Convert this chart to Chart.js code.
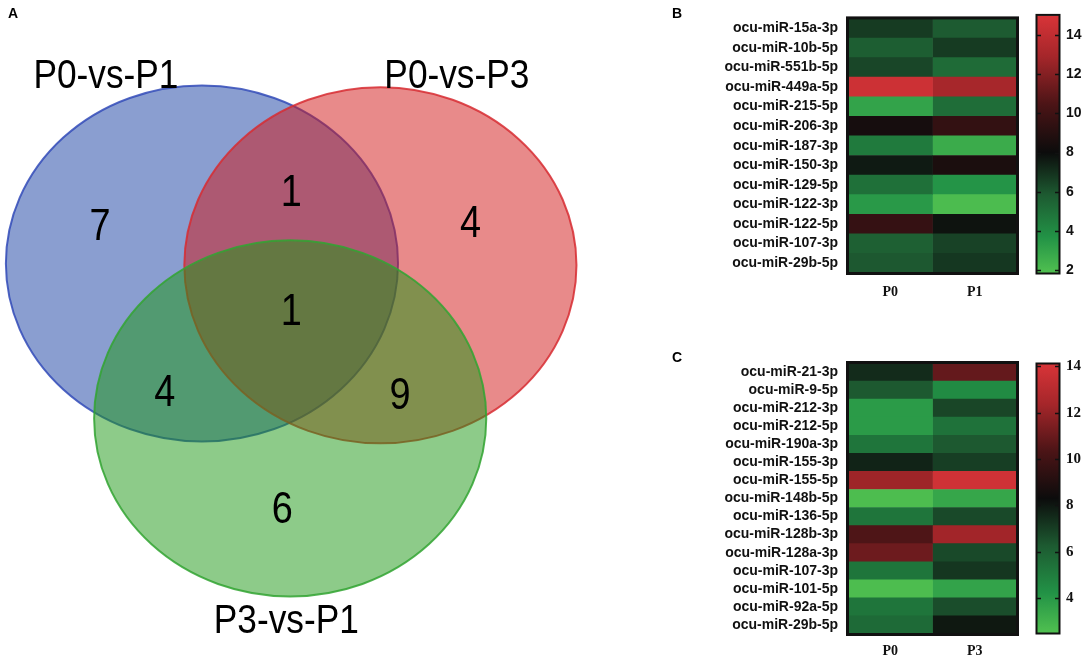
<!DOCTYPE html>
<html>
<head>
<meta charset="utf-8">
<script src="https://cdn.jsdelivr.net/npm/chart.js@4.4.1/dist/chart.umd.min.js"></script>
<style>
  html, body { margin: 0; padding: 0; background: #fff; }
  #wrap { position: relative; width: 1084px; height: 657px; overflow: hidden; }
  canvas { position: absolute; }
  .panel { position: absolute; font: bold 14px 'Liberation Sans', Arial, sans-serif; color: #000; line-height: 14px; }
</style>
</head>
<body>
<div id="wrap">
  <canvas id="venn" width="600" height="657" style="left:0;top:0"></canvas>
  <canvas id="heatB" width="345" height="320" style="left:680px;top:0"></canvas>
  <canvas id="barB" width="59" height="320" style="left:1025px;top:0"></canvas>
  <canvas id="heatC" width="345" height="337" style="left:680px;top:320px"></canvas>
  <canvas id="barC" width="59" height="337" style="left:1025px;top:320px"></canvas>
  <div class="panel" style="left:8px;top:6px">A</div>
  <div class="panel" style="left:672px;top:6px">B</div>
  <div class="panel" style="left:672px;top:350px">C</div>
</div>
<script>
// Venn: three comparisons, circles of radius 1 (data units)
const vennSets = ['P0-vs-P1', 'P0-vs-P3', 'P3-vs-P1'];
const vennCx = [1.03, 1.94, 1.48];
const vennCy = [2.21, 2.20, 1.34];
const vennR = 1;
const vennNameX = [0.54, 2.33, 1.46];
const vennNameY = [3.28, 3.28, 0.22];
// region counts: P1 only, P1&P3, P3 only, all, P1&P31, P3&P31, P31 only
const regionCounts = [7, 1, 4, 1, 4, 9, 6];
const regionX = [0.51, 1.485, 2.40, 1.485, 0.84, 2.04, 1.44];
const regionY = [2.43, 2.62, 2.45, 1.955, 1.50, 1.48, 0.84];

// heatmap B
const mirB = ['ocu-miR-15a-3p', 'ocu-miR-10b-5p', 'ocu-miR-551b-5p', 'ocu-miR-449a-5p', 'ocu-miR-215-5p',
  'ocu-miR-206-3p', 'ocu-miR-187-3p', 'ocu-miR-150-3p', 'ocu-miR-129-5p', 'ocu-miR-122-3p',
  'ocu-miR-122-5p', 'ocu-miR-107-3p', 'ocu-miR-29b-5p'];
const colsB = ['P0', 'P1'];
const p0B = [6.7, 5.7, 6.4, 14.5, 3.0, 8.4, 4.6, 7.6, 5.0, 3.4, 9.6, 5.6, 5.9];
const p1B = [5.8, 6.7, 5.2, 13.0, 5.1, 9.5, 2.7, 8.6, 3.6, 2.0, 7.8, 6.5, 6.8];
const ticksB = [2, 4, 6, 8, 10, 12, 14];

// heatmap C
const mirC = ['ocu-miR-21-3p', 'ocu-miR-9-5p', 'ocu-miR-212-3p', 'ocu-miR-212-5p', 'ocu-miR-190a-3p',
  'ocu-miR-155-3p', 'ocu-miR-155-5p', 'ocu-miR-148b-5p', 'ocu-miR-136-5p', 'ocu-miR-128b-3p',
  'ocu-miR-128a-3p', 'ocu-miR-107-3p', 'ocu-miR-101-5p', 'ocu-miR-92a-5p', 'ocu-miR-29b-5p'];
const colsC = ['P0', 'P3'];
const p0C = [7.5, 6.3, 3.9, 3.9, 5.3, 7.7, 12.2, 2.6, 5.3, 10.4, 11.1, 5.3, 2.6, 5.3, 5.7];
const p3C = [10.9, 4.5, 6.8, 5.4, 6.3, 7.0, 13.8, 3.5, 6.7, 12.3, 6.7, 7.2, 3.6, 6.6, 8.0];
const ticksC = [4, 6, 8, 10, 12, 14];

const fills = ['rgba(21,61,161,0.5)', 'rgba(209,21,21,0.5)', 'rgba(27,151,19,0.5)'];
const strokes = ['rgba(50,75,185,0.85)', 'rgba(215,45,50,0.85)', 'rgba(50,165,50,0.85)'];

function makeStops(lo, mid, hi) {
  return [
    [lo, [80, 192, 80]],
    [lo + (mid - lo) * 0.3, [34, 146, 70]],
    [lo + (mid - lo) * 0.65, [29, 90, 49]],
    [mid, [12, 12, 12]],
    [mid + (hi - mid) * 0.35, [75, 20, 22]],
    [mid + (hi - mid) * 0.7, [165, 38, 42]],
    [hi, [216, 52, 56]]
  ];
}

function colorOf(v, stops) {
  if (v <= stops[0][0]) return 'rgb(' + stops[0][1].join(',') + ')';
  for (let i = 1; i < stops.length; i++) {
    if (v <= stops[i][0]) {
      const t = (v - stops[i - 1][0]) / (stops[i][0] - stops[i - 1][0]);
      const a = stops[i - 1][1], b = stops[i][1];
      return 'rgb(' + a.map((c, k) => Math.round(c + (b[k] - c) * t)).join(',') + ')';
    }
  }
  return 'rgb(' + stops[stops.length - 1][1].join(',') + ')';
}

Chart.defaults.animation = false;
Chart.defaults.events = [];
Chart.defaults.plugins.legend.display = false;
Chart.defaults.plugins.tooltip.enabled = false;

function drawText(ctx, text, px, py, size, sx) {
  ctx.save();
  ctx.translate(px, py);
  ctx.scale(sx, 1);
  ctx.font = size + "px 'Liberation Sans', Arial, sans-serif";
  ctx.fillStyle = '#000';
  ctx.textAlign = 'center';
  ctx.textBaseline = 'alphabetic';
  ctx.fillText(text, 0, size * 0.36);
  ctx.restore();
}

const vennPlugin = {
  id: 'venn',
  afterDatasetsDraw(chart) {
    const { ctx, scales: { x, y } } = chart;
    vennSets.forEach((name, i) => {
      const px = x.getPixelForValue(vennCx[i]);
      const py = y.getPixelForValue(vennCy[i]);
      const rx = x.getPixelForValue(vennCx[i] + vennR) - px;
      const ry = py - y.getPixelForValue(vennCy[i] + vennR);
      ctx.beginPath();
      ctx.ellipse(px, py, rx, ry, 0, 0, Math.PI * 2);
      ctx.fillStyle = fills[i];
      ctx.fill();
      ctx.lineWidth = 2;
      ctx.strokeStyle = strokes[i];
      ctx.stroke();
    });
    vennSets.forEach((name, i) => {
      drawText(ctx, name, x.getPixelForValue(vennNameX[i]), y.getPixelForValue(vennNameY[i]), 41, 0.86);
    });
    regionCounts.forEach((n, i) => {
      drawText(ctx, String(n), x.getPixelForValue(regionX[i]), y.getPixelForValue(regionY[i]), 44, 0.86);
    });
  }
};

new Chart(document.getElementById('venn'), {
  type: 'scatter',
  data: {
    datasets: vennSets.map((name, i) => ({
      label: name,
      data: [{ x: vennCx[i], y: vennCy[i] }],
      pointRadius: 0
    }))
  },
  options: {
    responsive: false,
    layout: { padding: 0 },
    scales: {
      x: { type: 'linear', display: false, min: 0, max: 3.06 },
      y: { type: 'linear', display: false, min: 0, max: 3.69 }
    }
  },
  plugins: [vennPlugin]
});

const frame = {
  id: 'frame',
  afterDatasetsDraw(chart, args, opts) {
    const { ctx, chartArea: a } = chart;
    ctx.save();
    ctx.strokeStyle = '#111';
    ctx.lineWidth = opts.width;
    ctx.strokeRect(a.left - 0.5, a.top - 0.5, a.right - a.left + 1, a.bottom - a.top + 1);
    if (opts.marks) {
      const y = chart.scales.y;
      ctx.lineWidth = 1.5;
      y.ticks.forEach(t => {
        const py = Math.round(y.getPixelForValue(t.value)) + 0.5;
        ctx.beginPath();
        ctx.moveTo(a.left, py); ctx.lineTo(a.left + 4, py);
        ctx.moveTo(a.right - 4, py); ctx.lineTo(a.right, py);
        ctx.stroke();
      });
    }
    ctx.restore();
  }
};

function heatmap(id, rows, cols, series, stops, pad, xHeight, xPad) {
  new Chart(document.getElementById(id), {
    type: 'bar',
    data: {
      labels: rows,
      datasets: series.map((vals, c) => ({
        label: cols[c],
        data: vals.map(() => [c, c + 1]),
        backgroundColor: vals.map(v => colorOf(v, stops)),
        borderWidth: 0,
        barPercentage: 1,
        categoryPercentage: 1,
        grouped: false
      }))
    },
    options: {
      responsive: false,
      indexAxis: 'y',
      layout: { padding: pad },
      scales: {
        x: {
          type: 'linear', min: 0, max: cols.length,
          grid: { display: false, drawTicks: false },
          border: { display: false },
          afterBuildTicks: s => { s.ticks = cols.map((c, i) => ({ value: i + 0.5 })); },
          afterFit: s => { s.height = xHeight; },
          ticks: {
            callback: (v, i) => cols[i],
            padding: xPad,
            color: '#111',
            font: { family: "'Liberation Serif', 'Times New Roman', serif", size: 14, weight: 'bold' }
          }
        },
        y: {
          grid: { display: false, drawTicks: false },
          border: { display: false },
          afterFit: s => { s.width = 168; },
          ticks: {
            autoSkip: false,
            padding: 10,
            color: '#111',
            font: { family: "'Liberation Sans', Arial, sans-serif", size: 14, weight: 'bold' }
          }
        }
      },
      plugins: { frame: { width: 3, marks: false } }
    },
    plugins: [frame]
  });
}

function colorbar(id, stops, ticks, pad, font) {
  const lo = stops[0][0], hi = stops[stops.length - 1][0];
  new Chart(document.getElementById(id), {
    type: 'bar',
    data: {
      labels: [''],
      datasets: [{
        data: [[lo, hi]],
        barPercentage: 1,
        categoryPercentage: 1,
        borderWidth: 0,
        backgroundColor: (c) => {
          const y = c.chart.scales.y;
          if (!c.chart.chartArea || !y) return '#000';
          const y0 = y.getPixelForValue(lo), y1 = y.getPixelForValue(hi);
          if (!isFinite(y0) || !isFinite(y1)) return '#000';
          const g = c.chart.ctx.createLinearGradient(0, y0, 0, y1);
          stops.forEach(s => g.addColorStop((s[0] - lo) / (hi - lo), 'rgb(' + s[1].join(',') + ')'));
          return g;
        }
      }]
    },
    options: {
      responsive: false,
      layout: { padding: pad },
      scales: {
        x: { display: false },
        y: {
          position: 'right', min: lo, max: hi,
          grid: { display: false, drawTicks: false },
          border: { display: false },
          afterBuildTicks: s => { s.ticks = ticks.map(v => ({ value: v })); },
          afterFit: s => { s.width = 25; },
          ticks: { padding: 7, color: '#111', font: font }
        }
      },
      plugins: { frame: { width: 2, marks: true } }
    },
    plugins: [frame]
  });
}

const stopsB = makeStops(1.85, 8.0, 15.0);
const stopsC = makeStops(2.5, 8.3, 14.1);

heatmap('heatB', mirB, colsB, [p0B, p1B], stopsB, { top: 3, right: 8, left: 0, bottom: 0 }, 47, 11);
heatmap('heatC', mirC, colsC, [p0C, p3C], stopsC, { top: 43, right: 8, left: 0, bottom: 0 }, 23, 9);
colorbar('barB', stopsB, ticksB, { top: 3, left: 12, right: 0, bottom: 47 },
  { family: "'Liberation Sans', Arial, sans-serif", size: 14, weight: 'bold' });
colorbar('barC', stopsC, ticksC, { top: 44, left: 12, right: 0, bottom: 24 },
  { family: "'Liberation Serif', 'Times New Roman', serif", size: 15, weight: 'bold' });
</script>
</body>
</html>
